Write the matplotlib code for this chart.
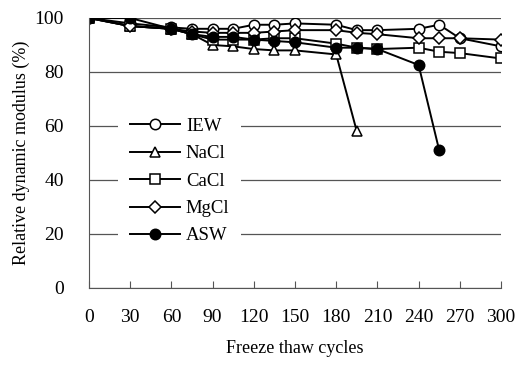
import numpy as np
import matplotlib.pyplot as plt

plt.rcParams['font.family'] = ['Liberation Serif', 'DejaVu Serif']

# cycles used in the test
cycles = [0, 30, 60, 75, 90, 105, 120, 135, 150, 180, 195, 210, 240, 255, 270, 300]

iew = [100, 98, 96.5, 96, 96, 96, 97.5, 97.5, 98, 97.5, 95.5, 95.5, 96, 97.5, 92.5, 89.5]
nacl_x = [0, 30, 60, 75, 90, 105, 120, 135, 150, 180, 195]
nacl = [100, 97, 96, 94, 90, 89.5, 88.5, 88, 88, 86.5, 58]
cacl = [100, 97, 96, 94, 92, 92, 92, 92.5, 92.5, 90.5, 89, 88.5, 89, 87.5, 87, 85]
mgcl = [100, 97, 96, 95, 94.5, 94.5, 94.5, 95, 95.5, 95.5, 94.5, 94, 92.5, 92.5, 92.5, 92]
asw_x = [0, 30, 60, 75, 90, 105, 120, 135, 150, 180, 195, 210, 240, 255]
asw = [100, 100, 96, 94, 93, 93, 92, 91.5, 91, 89, 89, 88.5, 82.6, 51]

fig = plt.figure(figsize=(5.16, 3.65), dpi=100)
ax = fig.add_axes([89 / 516, 1 - 288 / 365, 412 / 516, 270 / 365])

style = dict(color="black", linewidth=1.4, markersize=7.5, markeredgewidth=1.1)
ax.plot(cycles, iew, marker="o", markerfacecolor="white", label="IEW", **style)
ax.plot(nacl_x, nacl, marker="^", markerfacecolor="white", label="NaCl", **style)
ax.plot(cycles, cacl, marker="s", markerfacecolor="white", label="CaCl", **style)
ax.plot(cycles, mgcl, marker="D", markerfacecolor="white", label="MgCl",
        color="black", linewidth=1.4, markersize=6.5, markeredgewidth=1.1)
ax.plot(asw_x, asw, marker="o", markerfacecolor="black", label="ASW", **style)

ax.set_xlim(0, 300)
ax.set_ylim(0, 100)
ax.set_xticks(range(0, 301, 30))
ax.set_yticks(range(0, 101, 20))
ax.yaxis.grid(True, color="#555555", linewidth=0.9)
ax.set_axisbelow(True)
for s in ["top", "right"]:
    ax.spines[s].set_visible(False)
ax.spines["left"].set_color("#555555")
ax.spines["bottom"].set_color("#555555")
ax.tick_params(axis="x", direction="in", length=5, pad=15, labelsize=14, color="#555555")
ax.tick_params(axis="y", length=0, pad=18, labelsize=14)

ax.set_xlabel("Freeze thaw cycles", fontsize=13, labelpad=10)
ax.set_ylabel("Relative dynamic modulus (%)", fontsize=13, labelpad=3)

leg = ax.legend(loc="upper left", bbox_to_anchor=(109 / 516, 1 - 97 / 365),
                bbox_transform=fig.transFigure, fontsize=13.5, frameon=True,
                facecolor="white", edgecolor="none", framealpha=1, fancybox=False,
                handlelength=2.7, handletextpad=0.3, labelspacing=0.55, borderpad=0.6)

fig.savefig("out.png", dpi=100)
